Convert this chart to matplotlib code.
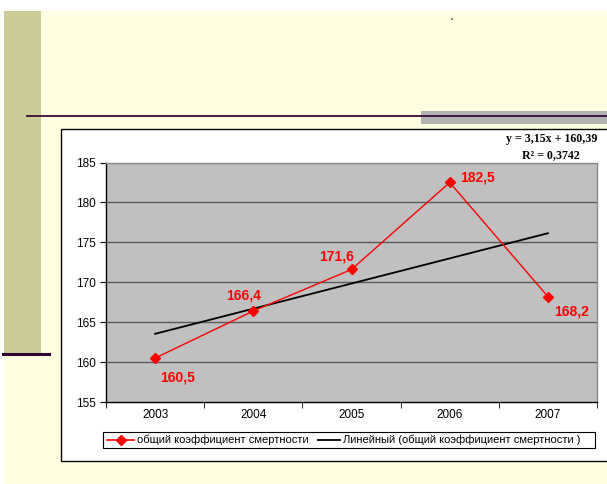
import matplotlib
matplotlib.use("Agg")
import matplotlib.pyplot as plt
from matplotlib.patches import Rectangle
from matplotlib.lines import Line2D
import numpy as np

years = ["2003", "2004", "2005", "2006", "2007"]
rates = [160.5, 166.4, 171.6, 182.5, 168.2]
value_labels = ["160,5", "166,4", "171,6", "182,5", "168,2"]
trend_slope = 3.15
trend_intercept = 160.39
yticks = [155, 160, 165, 170, 175, 180, 185]
series_name = "общий коэффициент смертности"
trend_name = "Линейный (общий коэффициент смертности )"
eq_text = "y = 3,15x + 160,39"
r2_text = "R² = 0,3742"

W, H = 607, 484
fig = plt.figure(figsize=(W / 100, H / 100), dpi=100)
fig.patch.set_facecolor("white")

def fx(x):
    return x / W

def fy(y):
    return 1 - y / H

def rect(x0, y0, x1, y1, **kw):
    fig.add_artist(Rectangle((fx(x0), fy(y1)), fx(x1) - fx(x0), fy(y0) - fy(y1),
                             transform=fig.transFigure, **kw))

def hline(x0, x1, y, **kw):
    fig.add_artist(Line2D([fx(x0), fx(x1)], [fy(y), fy(y)], transform=fig.transFigure, **kw))

# slide background
rect(4, 11, 607, 484, facecolor="#FFFFE1", edgecolor="none", zorder=0)
rect(4, 11, 41, 354, facecolor="#CCCC99", edgecolor="none", zorder=1)
rect(421, 111, 607, 124, facecolor="#B2B2B2", edgecolor="none", zorder=1)
hline(27, 607, 116, color="#3A0A3A", lw=1.3, zorder=2)
hline(3, 49, 354, color="#2A0030", lw=2.2, zorder=2)
rect(451, 18, 453, 20, facecolor="#888888", edgecolor="none", zorder=2)

# chart box
rect(61, 129, 612, 461, facecolor="white", edgecolor="black", lw=1.0, zorder=3)

font = "Liberation Sans"
ax = fig.add_axes([fx(106), fy(402), fx(597) - fx(106), fy(162.5) - fy(402)], zorder=5)
ax.set_facecolor("#C0C0C0")
x = np.arange(len(years))
ax.set_xlim(-0.5, len(years) - 0.5)
ax.set_ylim(155, 185)
ax.set_yticks(yticks)
ax.set_yticklabels([str(v) for v in yticks], fontsize=8.5, family=font)
for v in yticks[1:]:
    ax.axhline(v, color="#5A5A5A" if v != 185 else "#8A8A8A", lw=1.0, zorder=1)
ax.set_xticks(x)
ax.set_xticklabels(years, fontsize=8.5, family=font)
ax.tick_params(axis="x", length=0, pad=5)
ax.set_xticks(np.arange(-0.5, len(years)), minor=True)
ax.tick_params(axis="x", which="minor", length=4, direction="out", color="black")
ax.tick_params(axis="y", length=4, direction="out", pad=3, color="black")
for s in ["left", "bottom"]:
    ax.spines[s].set_color("black")
    ax.spines[s].set_linewidth(1.0)
for s in ["top", "right"]:
    ax.spines[s].set_color("#8A8A8A")
    ax.spines[s].set_linewidth(1.0)

ax.plot(x, rates, color="#FF0000", lw=1.0, marker="D", markersize=5.5,
        markerfacecolor="#FF0000", markeredgecolor="#FF0000", zorder=4, label=series_name)
trend = [trend_slope * (i + 1) + trend_intercept for i in x]
ax.plot(x, trend, color="black", lw=1.3, zorder=3, label=trend_name)

offsets = [(16.5, -13.7), (-7, 11.5), (-10.5, 9.4), (20, 3.6), (17, -11)]
for i, (lab, off) in enumerate(zip(value_labels, offsets)):
    ax.annotate(lab, (x[i], rates[i]), xytext=off, textcoords="offset points",
                ha="center", va="center", color="#FF0000", fontsize=10,
                fontweight="bold", family=font, zorder=6)

fig.text(fx(551.5), fy(139), eq_text, ha="center", va="center", fontsize=8.6,
         fontweight="bold", family="Liberation Serif", zorder=6)
fig.text(fx(551), fy(155), r2_text, ha="center", va="center", fontsize=8.6,
         fontweight="bold", family="Liberation Serif", zorder=6)

# legend box
rect(103, 432, 595, 448, facecolor="white", edgecolor="black", lw=0.8, zorder=6)
fig.add_artist(Line2D([fx(107), fx(134)], [fy(440), fy(440)], color="#FF0000", lw=1.2,
                      transform=fig.transFigure, zorder=7))
fig.add_artist(Line2D([fx(120.5)], [fy(440)], color="#FF0000", marker="D", markersize=5.5,
                      transform=fig.transFigure, zorder=7))
fig.text(fx(137), fy(440), series_name, ha="left", va="center", fontsize=8, family=font, zorder=7)
fig.add_artist(Line2D([fx(318), fx(340)], [fy(440), fy(440)], color="black", lw=1.3,
                      transform=fig.transFigure, zorder=7))
fig.text(fx(343), fy(440), trend_name, ha="left", va="center", fontsize=8, family=font, zorder=7)

fig.savefig("out.png", dpi=100)
